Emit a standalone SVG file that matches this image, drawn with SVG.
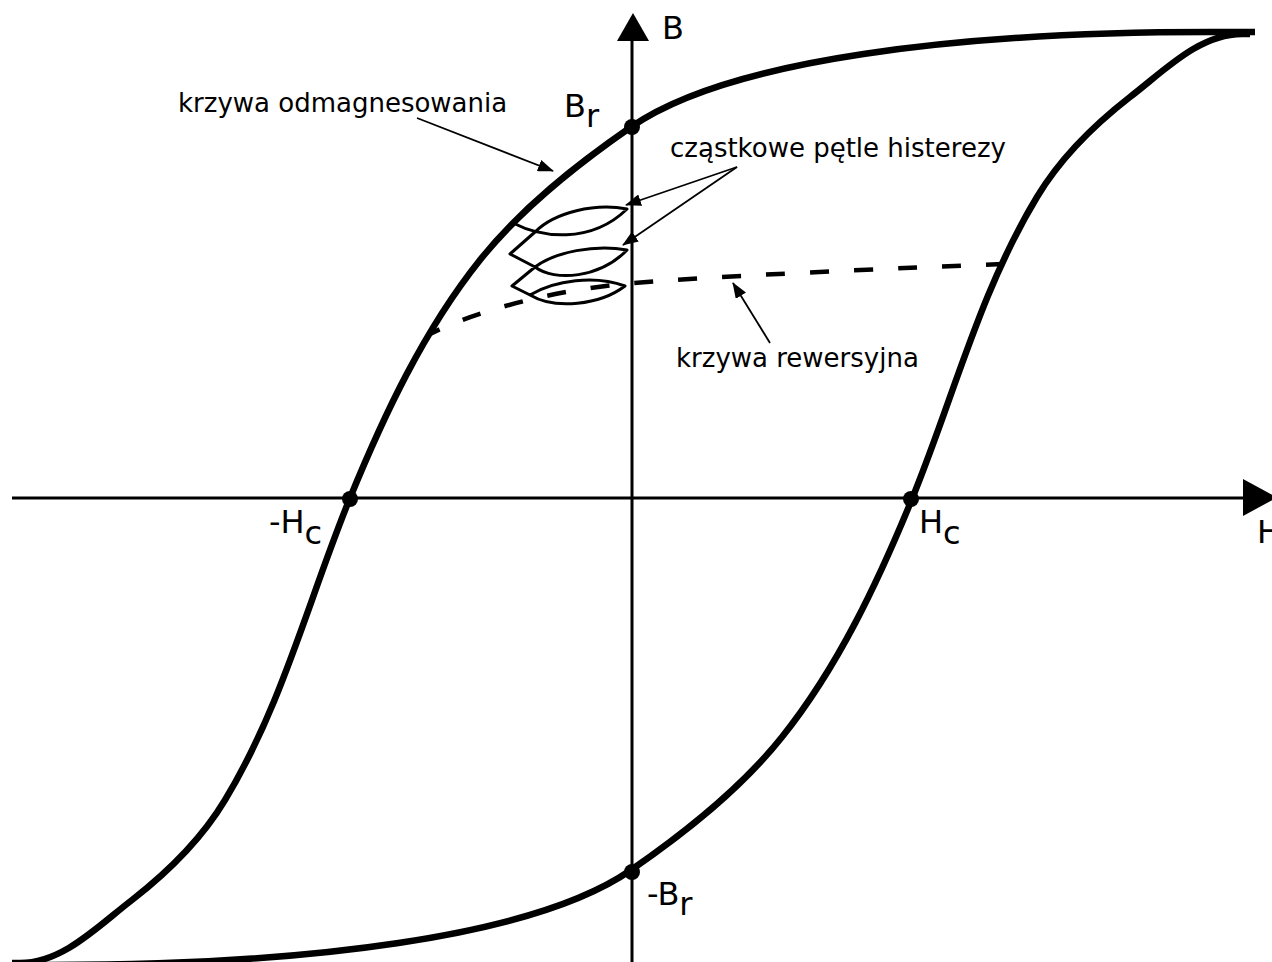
<svg xmlns="http://www.w3.org/2000/svg" width="1272" height="962" viewBox="0 0 1272 962">
<defs>
<marker id="ah" markerUnits="userSpaceOnUse" markerWidth="16" markerHeight="12" refX="15" refY="6" orient="auto"><path d="M0,0 L16,6 L0,12 Z" fill="#000"/></marker>
</defs>
<style>
.curve{fill:none;stroke:#000;stroke-width:6.5;stroke-linejoin:round}
.axis{fill:none;stroke:#000;stroke-width:3}
.loop{fill:none;stroke:#000;stroke-width:3;stroke-linejoin:round}
.dash{fill:none;stroke:#000;stroke-width:4.5;stroke-dasharray:19 25;stroke-dashoffset:6}
.lead{fill:none;stroke:#000;stroke-width:1.8;marker-end:url(#ah)}
.lbl{font-family:"DejaVu Sans",sans-serif;font-size:26px;fill:#000}
.sym{font-family:"DejaVu Sans",sans-serif;font-size:32px;fill:#000}
.dot{fill:#000}
</style>
<rect width="1272" height="962" fill="#fff"/>
<g id="axes">
<line class="axis" x1="12" y1="498" x2="1246" y2="498"/>
<line class="axis" x1="632" y1="38" x2="632" y2="962"/>
<path d="M617,41 L649,41 L633,13 Z" fill="#000"/>
<path d="M1243,479 L1243,516 L1277,497.5 Z" fill="#000"/>
</g>
<g id="hysteresis-loop">
<path class="curve" d="M1255,32 L1210,32 C960,32 729,59 631,127 C576,165 521.5,208 480,260 C424,330 384,415 350,498 C309,598 282,706 225,800 C201,840 168,872 132,900 C98,926 63,963 20,963 L12,963"/>
<path class="curve" d="M13,965 L52,965 C302,965 533,938 631,870 C686,832 740.5,789 782,737 C838,667 878,582 912,499 C953,399 980,291 1037,197 C1061,157 1094,125 1130,97 C1164,71 1199,34 1242,34 L1250,34"/>
</g>
<g id="minor-loops">
<path class="loop" d="M513,223 C540,237 590,245 627,209 C595,203 555,212 535,232 L510,254 L535,267 C555,282 600,278 627,250 C595,244 555,252 535,267 L512,286 L530,295 C555,310 600,305 625,286 C595,275 555,280 530,295"/>
</g>
<g id="recoil-curve">
<path class="dash" d="M428,335 C470,313 550,290 633,283 S900,268 1003,264"/>
</g>
<g id="points">
<circle class="dot" cx="632" cy="127" r="8"/>
<circle class="dot" cx="632" cy="872" r="8"/>
<circle class="dot" cx="350" cy="499" r="8"/>
<circle class="dot" cx="911" cy="499" r="8"/>
</g>
<g id="connectors">
<line class="lead" x1="417" y1="118" x2="553" y2="171"/>
<line class="lead" x1="737" y1="167" x2="626" y2="205"/>
<line class="lead" x1="737" y1="167" x2="623" y2="245"/>
<line class="lead" x1="770" y1="343" x2="733" y2="283"/>
</g>
<g id="labels">
<text class="sym" x="662" y="39">B</text>
<text class="sym" x="1257" y="543">H</text>
<text class="sym" x="564" y="117">B<tspan dy="10">r</tspan></text>
<text class="sym" x="647" y="905">-B<tspan dy="10">r</tspan></text>
<text class="sym" x="269" y="533">-H<tspan dy="11">c</tspan></text>
<text class="sym" x="919" y="533">H<tspan dy="11">c</tspan></text>
<text class="lbl" x="178" y="112">krzywa odmagnesowania</text>
<text class="lbl" x="670" y="157">cząstkowe pętle histerezy</text>
<text class="lbl" x="676" y="367">krzywa rewersyjna</text>
</g>
</svg>
